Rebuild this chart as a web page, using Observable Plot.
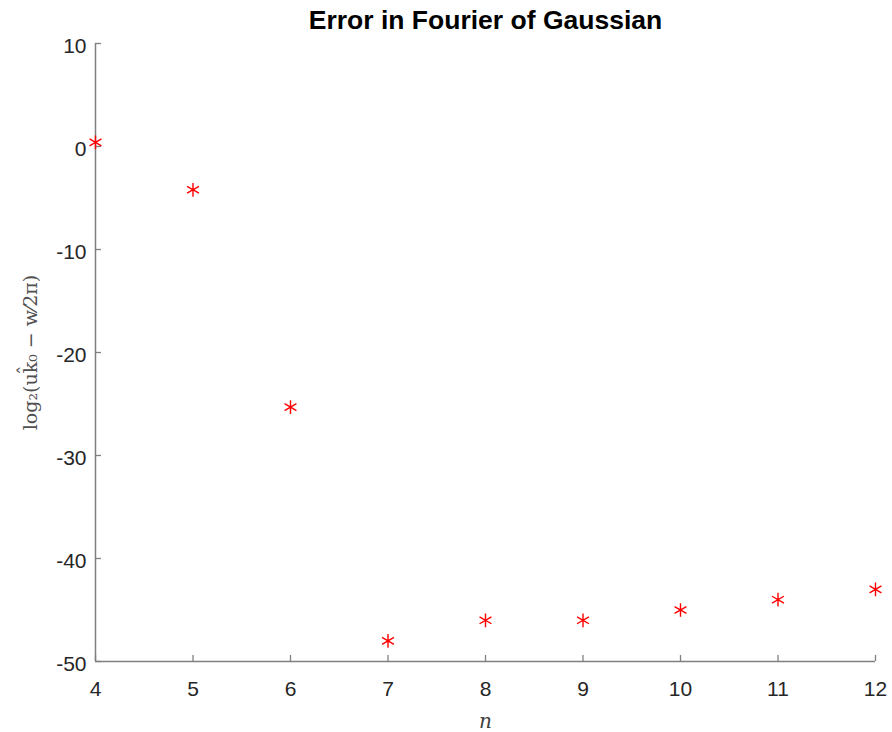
<!DOCTYPE html>
<html>
<head>
<meta charset="utf-8">
<script src="https://cdn.jsdelivr.net/npm/d3@7"></script>
<script src="https://cdn.jsdelivr.net/npm/@observablehq/plot@0.6"></script>
<style>
  body { margin: 0; background: #fff; }
  #chart svg { display: block; overflow: visible; }
</style>
</head>
<body>
<div id="chart"></div>
<script>
const nValues = [4, 5, 6, 7, 8, 9, 10, 11, 12];
const errLog2 = [0.4, -4.2, -25.3, -48, -46, -46, -45, -44, -43];
const xTicks = [4, 5, 6, 7, 8, 9, 10, 11, 12];
const yTicks = [10, 0, -10, -20, -30, -40, -50];
const titleText = ["Error in Fourier of Gaussian"];

const data = nValues.map((n, i) => ({n, e: errLog2[i]}));

const axisColor = "#808080";
const textColor = "#262626";
const W = 892, H = 732, ML = 95, MR = 17, MT = 43, MB = 71;
const frameW = W - ML - MR, frameH = H - MT - MB;

const chart = Plot.plot({
  width: W,
  height: H,
  marginLeft: ML,
  marginRight: MR,
  marginTop: MT,
  marginBottom: MB,
  style: {fontFamily: "Liberation Sans, Arial, sans-serif", fontSize: "21px", background: "#fff"},
  x: {domain: [4, 12]},
  y: {domain: [-50, 10]},
  marks: [
    Plot.ruleX([4], {stroke: axisColor, strokeWidth: 1.5}),
    Plot.ruleY([-50], {stroke: axisColor, strokeWidth: 1.5}),
    Plot.tickX(xTicks, {x: d => d, stroke: axisColor, strokeWidth: 1.3, insetTop: frameH - 6}),
    Plot.tickY(yTicks, {y: d => d, stroke: axisColor, strokeWidth: 1.3, insetRight: frameW - 6}),
    Plot.axisX({ticks: xTicks, tickSize: 0, tickPadding: 20, tickFormat: d => String(d), color: textColor, fontSize: 21, label: null}),
    Plot.axisY({ticks: yTicks, tickSize: 0, tickPadding: 9, tickFormat: d => String(d), color: textColor, fontSize: 21, dy: 3, label: null}),
    Plot.dot(data, {x: "n", y: "e", symbol: "asterisk", r: 6.5, stroke: "#ff0000", strokeWidth: 1.4}),
    Plot.text(titleText, {frameAnchor: "top", dy: -33, fontWeight: "bold", fontSize: 26.5, fill: "#000"}),
    Plot.text(["n"], {frameAnchor: "bottom", dy: 66, fontFamily: "DejaVu Serif, serif", fontStyle: "italic", fontSize: 20, fill: "#404040"}),
    Plot.text(["log₂(uk̂₀ − w⁄2π)"], {frameAnchor: "left", textAnchor: "middle", dx: -65, rotate: -90, fontFamily: "DejaVu Serif, serif", fontSize: 19, fill: "#505050"})
  ]
});
document.getElementById("chart").appendChild(chart);
</script>
</body>
</html>
